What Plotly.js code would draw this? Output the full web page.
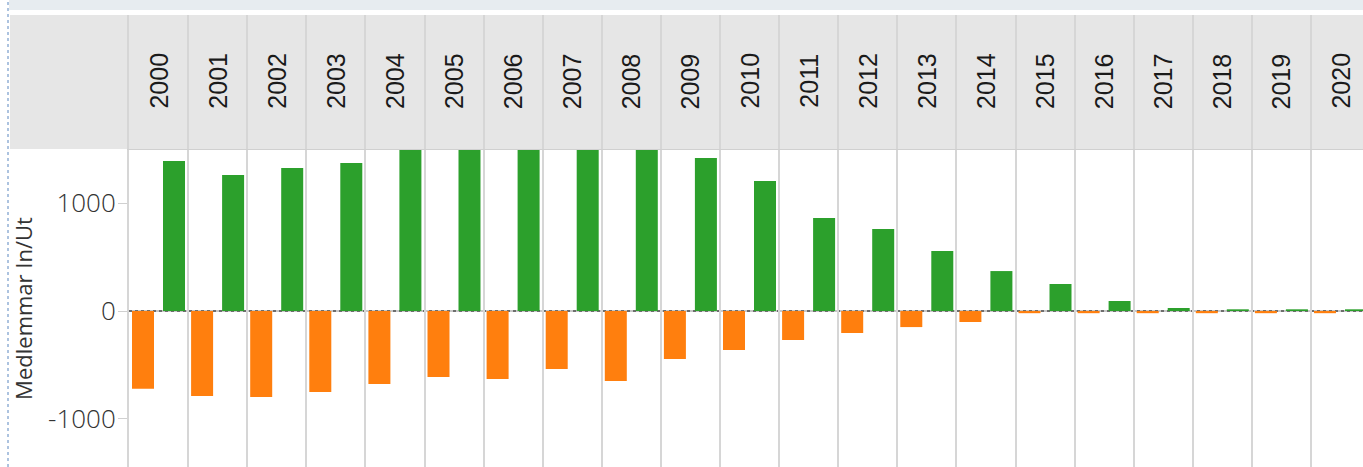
<!DOCTYPE html>
<html>
<head>
<meta charset="utf-8">
<script src="https://cdn.plot.ly/plotly-3.0.1.min.js"></script>
<style>
html,body{margin:0;padding:0;background:#fff;overflow:hidden}
#chart{width:1363px;height:467px}
</style>
</head>
<body>
<div id="chart"></div>
<script>
// ---- data ----
const years = ['2000','2001','2002','2003','2004','2005','2006','2007','2008','2009','2010',
               '2011','2012','2013','2014','2015','2016','2017','2018','2019','2020'];
const membersIn  = [1393,1263,1328,1375,1560,1600,1640,1680,1620,1421,1207,
                    864,761,557,371,251,93,28,16,16,16];
const membersOut = [-721,-789,-799,-752,-678,-613,-631,-539,-650,-446,-362,
                    -269,-204,-149,-102,-20,-20,-20,-20,-20,-20];
const yTickVals = [-1000, 0, 1000];
const yTickText = ['-1000', '0', '1000'];
const yTitle = 'Medlemmar In/Ut';

// ---- layout geometry (pixels) ----
const W = 1363, H = 467, L = 129, T = 15;
const plotH = H - T;               // 452
const mainTop = 150, headBottom = 149;
const py = p => (H - p) / plotH;   // pixel y -> paper y
const px = p => (p - L) / (W - L); // pixel x -> paper x
const colW = 59.1;
const xMax = -0.5 + (W - L) / colW;
const barW = 22 / colW;
const lineCol = '#d6d6d6';

const traces = [
  {type:'bar', x: years, y: membersOut, marker:{color:'#ff7f0e'},
   width: barW, offset: -26.55 / colW, hoverinfo:'skip', showlegend:false},
  {type:'bar', x: years, y: membersIn, marker:{color:'#2ca02c'},
   width: barW, offset: 4.45 / colW, hoverinfo:'skip', showlegend:false},
  // empty trace so the header subplot (column separators) is created
  {type:'scatter', mode:'none', x: [], y: [], xaxis:'x2', yaxis:'y2',
   hoverinfo:'skip', showlegend:false}
];

const annotations = years.map((yr, i) => ({
  x: i, xref:'x', y: py(81), yref:'paper', text: yr, textangle: -90,
  showarrow:false, xanchor:'center', yanchor:'middle',
  font:{family:'Liberation Sans, Arial, sans-serif', size:25, color:'#1a1a1a'}
}));

const layout = {
  width: W, height: H,
  margin:{l:L, r:0, t:T, b:0, pad:0},
  paper_bgcolor:'#fff', plot_bgcolor:'rgba(0,0,0,0)',
  barmode:'overlay', showlegend:false,
  xaxis:{type:'category', range:[-0.5, xMax], tickson:'boundaries',
         showgrid:true, gridcolor:lineCol, gridwidth:2, showticklabels:false,
         ticks:'', zeroline:false, showline:false, automargin:false, fixedrange:true},
  yaxis:{domain:[0, py(mainTop)], range:[-1448, 1495], tickvals:yTickVals, ticktext:yTickText,
         ticks:'outside', ticklen:9, tickwidth:1, tickcolor:'#d0d0d0', ticklabelstandoff:-3,
         tickfont:{family:'Open Sans, sans-serif', size:26, color:'#333', weight:300},
         showgrid:false, zeroline:false, showline:true, linecolor:lineCol, linewidth:2,
         automargin:false, fixedrange:true,
         title:{text:yTitle, standoff:9,
                font:{family:'Open Sans, sans-serif', size:22, color:'#333'}}},
  xaxis2:{type:'category', matches:'x', anchor:'y2', tickson:'boundaries',
          showgrid:true, gridcolor:lineCol, gridwidth:2, showticklabels:false, ticks:'',
          zeroline:false, showline:true, linecolor:'#d0d0d0', linewidth:1,
          automargin:false, fixedrange:true},
  yaxis2:{domain:[py(headBottom), 1], anchor:'x2', range:[0,1], showgrid:false,
          zeroline:false, showticklabels:false, ticks:'', showline:true,
          linecolor:lineCol, linewidth:2, automargin:false, fixedrange:true},
  annotations: annotations,
  shapes:[
    {type:'rect', xref:'paper', yref:'paper', x0:px(9), x1:1.05, y0:py(10), y1:py(0),
     fillcolor:'#e7ecf0', line:{width:0}, layer:'below'},
    {type:'rect', xref:'paper', yref:'paper', x0:px(10), x1:1.05, y0:py(headBottom), y1:1,
     fillcolor:'#e6e6e6', line:{width:0}, layer:'below'},
    {type:'line', xref:'paper', yref:'paper', x0:px(8), x1:px(8), y0:0, y1:py(1),
     line:{color:'#5b87c0', width:1, dash:'dot'}},
    {type:'line', xref:'x domain', yref:'y', x0:0, x1:1, y0:0, y1:0,
     line:{color:'#c8c8c8', width:2}, layer:'below'},
    {type:'line', xref:'x domain', yref:'y', x0:0, x1:1, y0:0, y1:0,
     line:{color:'#6e6e6e', width:2, dash:'3px,3px'}, layer:'below'}
  ]
};

Plotly.newPlot('chart', traces, layout, {displayModeBar:false, staticPlot:true});
</script>
</body>
</html>
